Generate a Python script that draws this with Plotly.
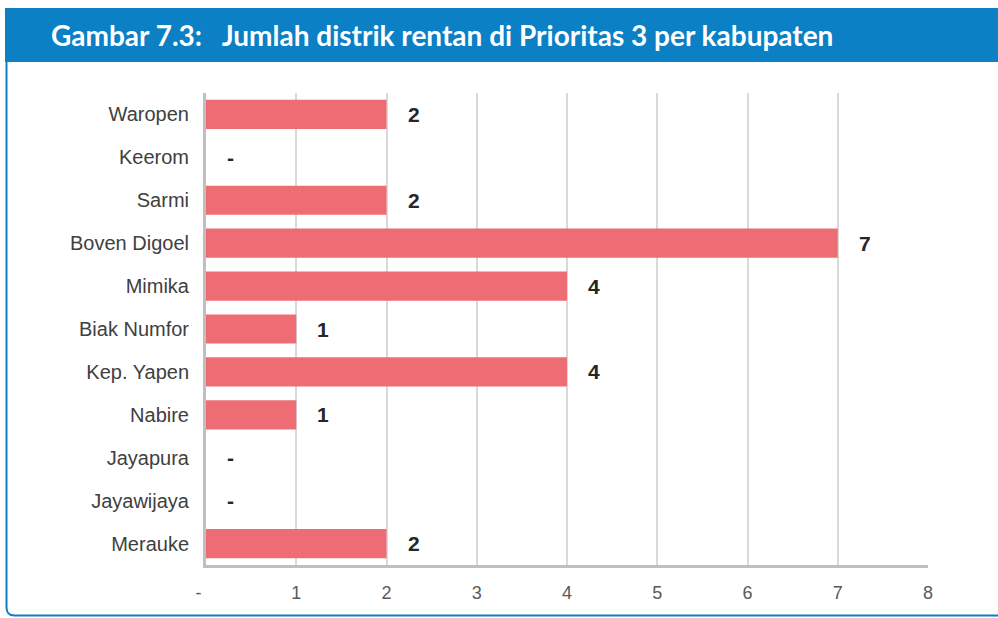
import plotly.graph_objects as go

# Kabupaten and number of vulnerable districts in Priority 3 (top to bottom)
kabupaten = ["Waropen", "Keerom", "Sarmi", "Boven Digoel", "Mimika", "Biak Numfor",
             "Kep. Yapen", "Nabire", "Jayapura", "Jayawijaya", "Merauke"]
jumlah = [2, 0, 2, 7, 4, 1, 4, 1, 0, 0, 2]
x_ticks = [0, 1, 2, 3, 4, 5, 6, 7, 8]
x_tick_labels = ["-\u00a0\u00a0\u00a0", "1", "2", "3", "4", "5", "6", "7", "8"]
judul = "Gambar 7.3:   Jumlah distrik rentan di Prioritas 3 per kabupaten"

W, H = 998, 618
ML, MR, MT, MB = 206, 70, 93, 53
PW, PH = W - ML - MR, H - MT - MB
BLUE = "#0b80c5"
FONT = "Liberation Sans, Arial, sans-serif"


def px(x):
    return (x - ML) / PW


def py(y):
    return (H - MB - y) / PH


fig = go.Figure()
fig.add_trace(go.Bar(
    x=jumlah, y=kabupaten, orientation="h",
    marker=dict(color="#ee6c74", line=dict(width=0)),
    width=0.68, hoverinfo="x+y",
))

# value labels beside each bar ("-" for zero)
for k, v in zip(kabupaten, jumlah):
    fig.add_annotation(
        x=v, y=k, xref="x", yref="y", text=str(v) if v else "-",
        showarrow=False, xanchor="left", xshift=19,
        font=dict(family=FONT, size=21, color="#262626", weight="bold"),
    )

# title banner and frame
fig.add_shape(type="rect", xref="paper", yref="paper",
              x0=px(5), x1=px(998), y0=py(62), y1=py(8),
              fillcolor=BLUE, line=dict(width=0), layer="below")
r = 8
frame = (f"M {px(6.5)},{py(62)} L {px(6.5)},{py(615.5 - r)} "
         f"Q {px(6.5)},{py(615.5)} {px(6.5 + r)},{py(615.5)} L {px(998)},{py(615.5)}")
fig.add_shape(type="path", xref="paper", yref="paper", path=frame,
              line=dict(color=BLUE, width=2), layer="below")
fig.add_annotation(
    x=px(49), y=py(35), xref="paper", yref="paper", text=judul,
    showarrow=False, xanchor="left", yanchor="middle",
    font=dict(family="Lato, Open Sans", size=28, color="white", weight="bold"),
)

fig.update_layout(
    width=W, height=H,
    margin=dict(l=ML, r=MR, t=MT, b=MB),
    plot_bgcolor="white", paper_bgcolor="white",
    showlegend=False, bargap=0.3,
    xaxis=dict(
        range=[0, 8], tickvals=x_ticks, ticktext=x_tick_labels,
        showgrid=True, gridcolor="#d9d9d9", gridwidth=1.5,
        showline=True, linecolor="#bfbfbf", linewidth=3,
        zeroline=False, ticks="", ticklabelstandoff=9,
        tickfont=dict(family=FONT, size=18, color="#595959"),
        fixedrange=True,
    ),
    yaxis=dict(
        categoryorder="array", categoryarray=kabupaten[::-1],
        range=[-0.5, 10.5], showgrid=False,
        showline=True, linecolor="#bfbfbf", linewidth=3,
        ticks="", ticklabelstandoff=10,
        tickfont=dict(family=FONT, size=20, color="#404040"),
        fixedrange=True,
    ),
)

fig.write_html("out.html")
